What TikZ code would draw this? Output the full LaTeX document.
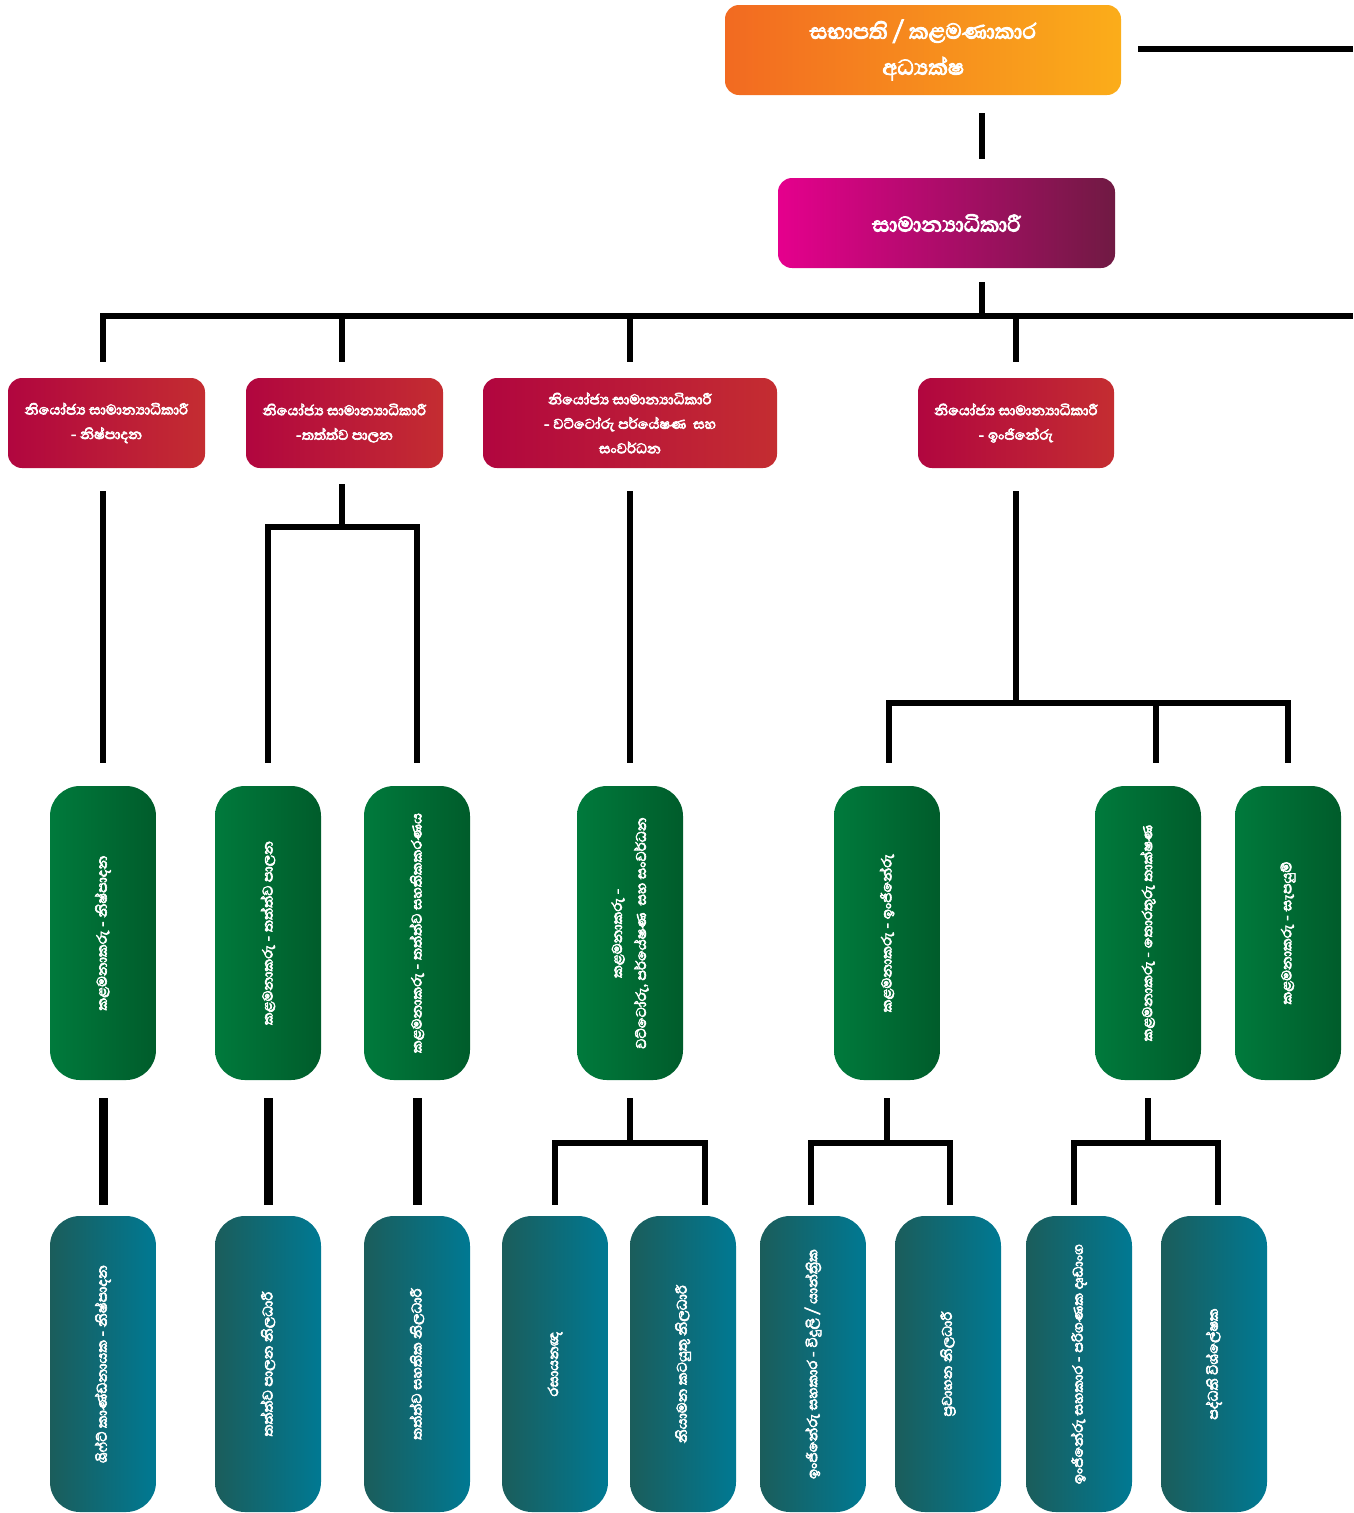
\documentclass[tikz,border=0pt]{standalone}
\usepackage{fontspec}
\newfontfamily\sinhfont[Script=Sinhala, FakeBold=3.5]{Abhaya Libre}
\definecolor{orL}{HTML}{F26A21}
\definecolor{orR}{HTML}{FBAD1A}
\definecolor{mgL}{HTML}{E5008D}
\definecolor{mgR}{HTML}{701A43}
\definecolor{rdL}{HTML}{B1063F}
\definecolor{rdR}{HTML}{C42D31}
\definecolor{gnL}{HTML}{007A3C}
\definecolor{gnR}{HTML}{005C2B}
\definecolor{tlL}{HTML}{1B5D5B}
\definecolor{tlR}{HTML}{007993}
\tikzset{
  hbox/.style={rounded corners=14pt, inner sep=0pt, draw=none, align=center, text=white},
  topbox/.style={hbox, left color=orL, right color=orR, minimum width=396pt, minimum height=90pt, font=\sinhfont\fontsize{27.5}{36}\selectfont},
  gmbox/.style={hbox, left color=mgL, right color=mgR, minimum width=337pt, minimum height=90pt, font=\sinhfont\fontsize{27}{36}\selectfont},
  depbox/.style={hbox, left color=rdL, right color=rdR, minimum height=90pt, font=\sinhfont\fontsize{18}{24.5}\selectfont},
  vbox/.style={rounded corners=30pt, inner sep=0pt, draw=none, minimum width=106pt},
  mgrbox/.style={vbox, left color=gnL, right color=gnR, minimum height=294pt},
  offbox/.style={vbox, left color=tlL, right color=tlR, minimum height=296pt},
  vtext/.style={rotate=90, text=white, align=center, inner sep=0pt, font=\sinhfont\fontsize{18}{24}\selectfont},
  conn/.style={line width=6pt, black, line cap=butt, line join=miter},
  thick conn/.style={line width=9pt, black, line cap=butt},
}
\begin{document}
\begin{tikzpicture}[x=1pt, y=-1pt]
\useasboundingbox (0,0) rectangle (1353,1513);

% boxes
\node[topbox] (top) at (923,50) {සභාපති / කළමණාකාර\\අධ්^^^^200dයක්ෂ};
\node[gmbox] (gm) at (946.5,223) {සාමාන්^^^^200dයාධිකාරී};

\node[depbox, minimum width=197pt] (d1) at (106.5,423) {නියෝජ්^^^^200dය සාමාන්^^^^200dයාධිකාරී\\- නිෂ්පාදන};
\node[depbox, minimum width=197pt] (d2) at (344.5,423) {නියෝජ්^^^^200dය සාමාන්^^^^200dයාධිකාරී\\-තත්ත්ව පාලන};
\node[depbox, minimum width=294pt] (d3) at (630,423) {නියෝජ්^^^^200dය සාමාන්^^^^200dයාධිකාරී\\- වට්ටෝරු පර්යේෂණ~~සහ\\සංවර්ධන};
\node[depbox, minimum width=196pt] (d4) at (1016,423) {නියෝජ්^^^^200dය සාමාන්^^^^200dයාධිකාරී\\- ඉංජිනේරු};

\node[mgrbox] (g1) at (103,933) {};
\node[mgrbox] (g2) at (268,933) {};
\node[mgrbox] (g3) at (417,933) {};
\node[mgrbox] (g4) at (630,933) {};
\node[mgrbox] (g5) at (887,933) {};
\node[mgrbox] (g6) at (1148,933) {};
\node[mgrbox] (g7) at (1288,933) {};

\node[vtext] (g1t) at (g1.center) {කළමනාකරු - නිෂ්පාදන};
\node[vtext] (g2t) at (g2.center) {කළමනාකරු - තත්ත්ව පාලන};
\node[vtext] (g3t) at (g3.center) {කළමනාකරු - තත්ත්ව සහතිකකරණය};
\node[vtext] (g4t) at (g4.center) {කළමනාකරු -\\වට්ටෝරු, පර්යේෂණ~~සහ සංවර්ධන};
\node[vtext] (g5t) at (g5.center) {කළමනාකරු - ඉංජිනේරු};
\node[vtext] (g6t) at (g6.center) {කළමනාකරු - තොරතුරු තාක්ෂණ};
\node[vtext] (g7t) at (g7.center) {කළමනාකරු - සැපයුම්};

\node[offbox] (t1) at (103,1364) {};
\node[offbox] (t2) at (268,1364) {};
\node[offbox] (t3) at (417,1364) {};
\node[offbox] (t4) at (555,1364) {};
\node[offbox] (t5) at (683,1364) {};
\node[offbox] (t6) at (813,1364) {};
\node[offbox] (t7) at (948,1364) {};
\node[offbox] (t8) at (1079,1364) {};
\node[offbox] (t9) at (1214,1364) {};

\node[vtext] (t1t) at (t1.center) {ශිෆ්ට් කාණ්ඩනායක - නිෂ්පාදන};
\node[vtext] (t2t) at (t2.center) {තත්ත්ව පාලන නිලධාරී};
\node[vtext] (t3t) at (t3.center) {තත්ත්ව සහතික නිලධාරී};
\node[vtext] (t4t) at (t4.center) {රසායනඥ};
\node[vtext] (t5t) at (t5.center) {නියාමන කටයුතු නිලධාරී};
\node[vtext] (t6t) at (t6.center) {ඉංජිනේරු සහකාර - විදුලි / යාන්ත්^^^^200dරික};
\node[vtext] (t7t) at (t7.center) {ප්^^^^200dරවාහන නිලධාරී};
\node[vtext] (t8t) at (t8.center) {ඉංජිනේරු සහකාර - පරිගණක දෘඩාංග};
\node[vtext] (t9t) at (t9.center) {පද්ධති විශ්ලේෂක};

% junction coordinates
\coordinate (redge) at (1353,49);
\coordinate (J0) at (982,316);
\coordinate (BL) at (100,316);
\coordinate (BR) at (1353,316);
\coordinate (p1) at (103,316);
\coordinate (p2) at (342,316);
\coordinate (p3) at (630,316);
\coordinate (p4) at (1016,316);
\coordinate (k2) at (342,527);
\coordinate (k4) at (1016,703);
\coordinate (q5) at (889,703);
\coordinate (q6) at (1156,703);
\coordinate (q7) at (1288,703);
\coordinate (m4) at (630,1143);
\coordinate (m5) at (887,1143);
\coordinate (m6) at (1148,1143);
\coordinate (r4) at (555,1143);
\coordinate (r5) at (705,1143);
\coordinate (r6) at (811,1143);
\coordinate (r7) at (950,1143);
\coordinate (r8) at (1074,1143);
\coordinate (r9) at (1218,1143);

% top connectors
\draw[conn, shorten <=17pt] (top.east |- redge) -- (redge);
\draw[conn, shorten <=18pt, shorten >=19pt] (top.south -| J0) -- (gm.north -| J0);
\draw[conn, shorten <=14pt] (gm.south -| J0) -- (J0);
\draw[conn] (BL) -- (BR);
\draw[conn, shorten >=16pt] (p1) -- (d1.north -| p1);
\draw[conn, shorten >=16pt] (p2) -- (d2.north -| p2);
\draw[conn, shorten >=16pt] (p3) -- (d3.north -| p3);
\draw[conn, shorten >=16pt] (p4) -- (d4.north -| p4);

% deputies to managers
\draw[conn, shorten <=23pt, shorten >=23pt] (d1.south -| g1) -- (g1.north);
\draw[conn, shorten <=16pt] (d2.south -| k2) -- (k2);
\draw[conn, shorten >=23pt] (g2.north |- k2) -- (g2.north);
\draw[conn, shorten >=23pt] (g3.north |- k2) -- (g3.north);
\draw[conn] ([xshift=-3pt]g2.north |- k2) -- ([xshift=3pt]g3.north |- k2);
\draw[conn, shorten <=23pt, shorten >=23pt] (d3.south) -- (g4.north);
\draw[conn, shorten <=23pt] (d4.south) -- (k4);
\draw[conn] ([xshift=-3pt]q5) -- ([xshift=3pt]q7);
\draw[conn, shorten >=23pt] (q5) -- (g5.north -| q5);
\draw[conn, shorten >=23pt] (q6) -- (g6.north -| q6);
\draw[conn, shorten >=23pt] (q7) -- (g7.north -| q7);

% managers to officers
\draw[thick conn, shorten <=18pt, shorten >=11pt] (g1.south) -- (t1.north);
\draw[thick conn, shorten <=18pt, shorten >=11pt] (g2.south) -- (t2.north);
\draw[thick conn, shorten <=18pt, shorten >=11pt] (g3.south) -- (t3.north);
\draw[conn, shorten <=18pt] (g4.south) -- (m4);
\draw[conn, shorten <=18pt] (g5.south) -- (m5);
\draw[conn, shorten <=18pt] (g6.south) -- (m6);
\draw[conn] ([xshift=-3pt]r4) -- ([xshift=3pt]r5);
\draw[conn] ([xshift=-3pt]r6) -- ([xshift=3pt]r7);
\draw[conn] ([xshift=-3pt]r8) -- ([xshift=3pt]r9);
\draw[conn, shorten >=11pt] (r4) -- (t4.north -| r4);
\draw[conn, shorten >=11pt] (r5) -- (t5.north -| r5);
\draw[conn, shorten >=11pt] (r6) -- (t6.north -| r6);
\draw[conn, shorten >=11pt] (r7) -- (t7.north -| r7);
\draw[conn, shorten >=11pt] (r8) -- (t8.north -| r8);
\draw[conn, shorten >=11pt] (r9) -- (t9.north -| r9);
\end{tikzpicture}
\end{document}
